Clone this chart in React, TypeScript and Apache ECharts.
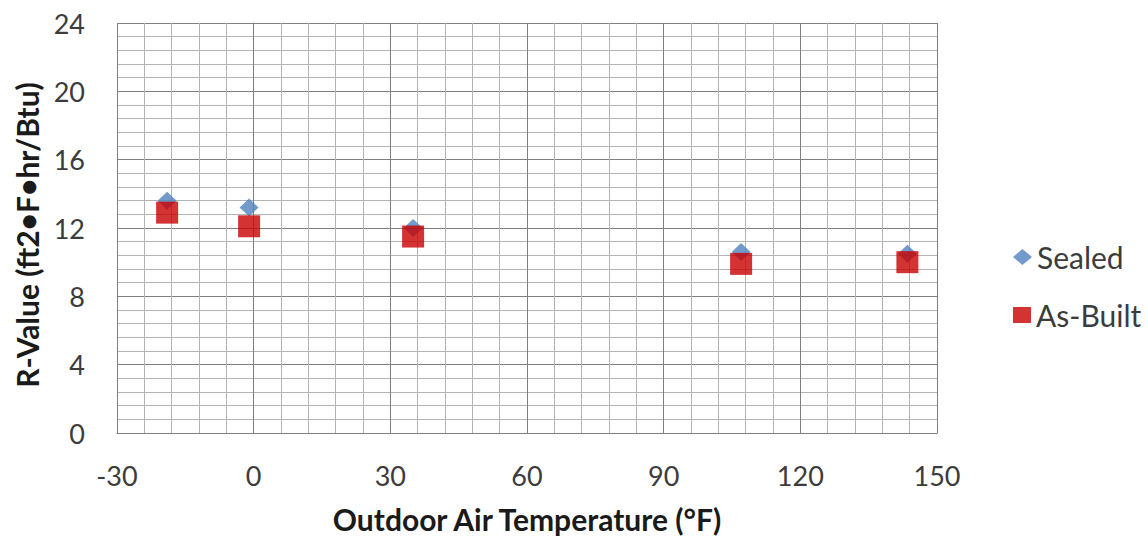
import React, { useEffect, useRef } from "react";
import * as echarts from "echarts";

const seriesNames = ["Sealed", "As-Built"];
const temperatures = [-19, -1, 35, 107, 143.5];
const sealedValues = [13.6, 13.2, 12.0, 10.6, 10.5];
const asBuiltValues = [12.9, 12.1, 11.5, 9.9, 10.0];
const xTitle = "Outdoor Air Temperature (°F)";
const yTitle = "R-Value (ft2•F•hr/Btu)";

const FONT = "Lato, 'Open Sans', sans-serif";
const MAJOR = "#7f7f7f";
const MINOR = "#b4b4b4";
const LABEL = "#3c3c3c";

export default function App() {
  const ref = useRef<HTMLDivElement>(null);
  useEffect(() => {
    document.body.style.margin = "0";
    const chart = echarts.init(ref.current!, null, { renderer: "svg" });
    const sealed = temperatures.map((t, i) => [t, sealedValues[i]]);
    const asBuilt = temperatures.map((t, i) => [t, asBuiltValues[i]]);
    chart.setOption({
      animation: false,
      backgroundColor: "#ffffff",
      textStyle: { fontFamily: FONT },
      grid: { left: 117, right: 211, top: 23, bottom: 113, containLabel: false },
      xAxis: {
        type: "value",
        min: -30,
        max: 150,
        interval: 30,
        name: xTitle,
        nameLocation: "middle",
        nameGap: 71,
        nameTextStyle: { fontFamily: FONT, fontSize: 30, fontWeight: "bold", color: "#1a1a1a" },
        axisLine: { show: true, lineStyle: { color: MAJOR, width: 1 } },
        axisTick: { show: false },
        axisLabel: { fontFamily: FONT, fontSize: 27, color: LABEL, margin: 29 },
        splitLine: { show: true, lineStyle: { color: MAJOR, width: 1 } },
        minorTick: { show: false, splitNumber: 5 },
        minorSplitLine: { show: true, lineStyle: { color: MINOR, width: 1 } },
      },
      yAxis: {
        type: "value",
        min: 0,
        max: 24,
        interval: 4,
        axisLine: { show: true, lineStyle: { color: MAJOR, width: 1 } },
        axisTick: { show: false },
        axisLabel: { fontFamily: FONT, fontSize: 27, color: LABEL, margin: 32 },
        splitLine: { show: true, lineStyle: { color: MAJOR, width: 1 } },
        minorTick: { show: false, splitNumber: 5 },
        minorSplitLine: { show: true, lineStyle: { color: MINOR, width: 1 } },
      },
      legend: [
        {
          data: [{ name: seriesNames[0], icon: "diamond" }],
          left: 1008,
          top: 237,
          itemWidth: 19,
          itemHeight: 16,
          textStyle: { fontFamily: FONT, fontSize: 30, color: LABEL, lineHeight: 30 },
        },
        {
          data: [{ name: seriesNames[1], icon: "rect" }],
          left: 1008,
          top: 295,
          itemWidth: 18,
          itemHeight: 16,
          textStyle: { fontFamily: FONT, fontSize: 30, color: LABEL, lineHeight: 30 },
        },
      ],
      graphic: [
        {
          type: "text",
          x: 27,
          y: 235,
          rotation: Math.PI / 2,
          style: {
            text: yTitle,
            fontFamily: FONT,
            fontSize: 30,
            fontWeight: "bold",
            fill: "#1a1a1a",
            align: "center",
            verticalAlign: "middle",
          },
        },
      ],
      series: [
        {
          name: seriesNames[0],
          type: "scatter",
          symbol: "diamond",
          symbolSize: [19, 18],
          itemStyle: { color: "#4f81bd" },
          data: sealed,
          z: 2,
        },
        {
          name: seriesNames[1],
          type: "scatter",
          symbol: "rect",
          symbolSize: 22,
          itemStyle: { color: "#c80000" },
          data: asBuilt,
          z: 3,
        },
      ],
    });
    return () => chart.dispose();
  }, []);
  return <div ref={ref} style={{ width: 1148, height: 546 }} />;
}
